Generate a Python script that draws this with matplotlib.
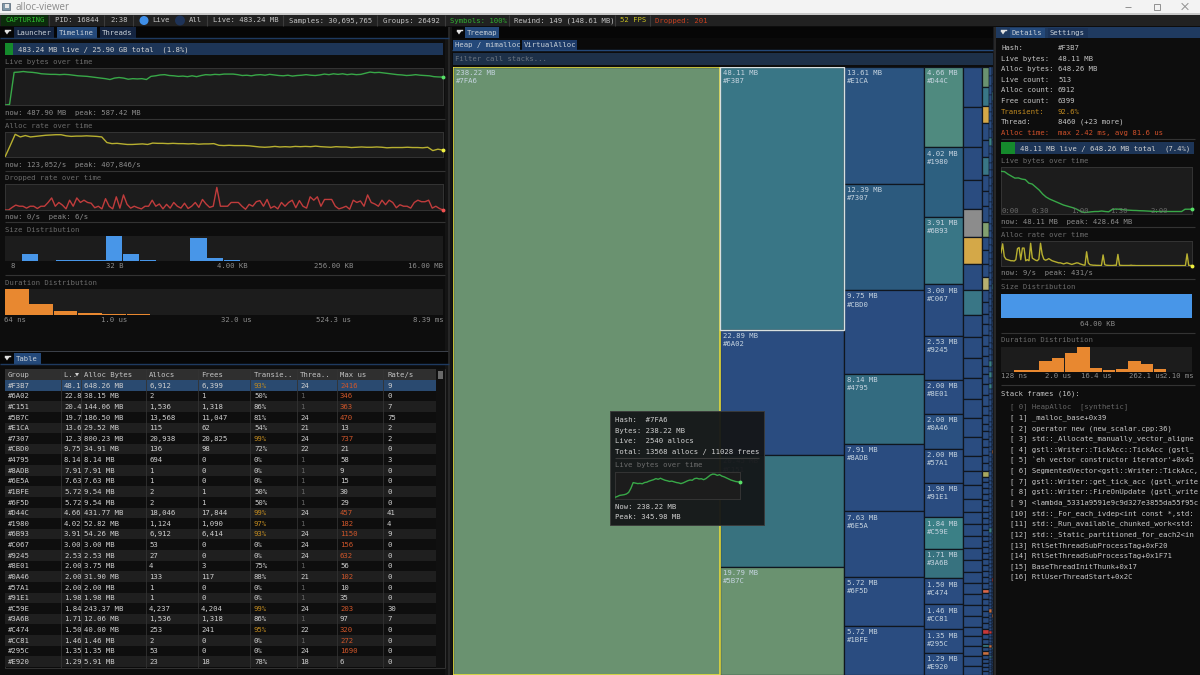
import matplotlib
matplotlib.use("Agg")
import matplotlib.pyplot as plt
from matplotlib.patches import Rectangle, Circle

plt.rcParams['font.family'] = ['DejaVu Sans Mono']
FS = 5.2
W, H = 1200, 675

# ---------- data ----------
live_mb = [0,10,570,575,585,575,570,560,545,540,535,535,530,535,530,520,510,505,500,490,480,470,460,445,470,480,470,450,460,455,460,445,500,510,525,530,515,510,500,505,495,510,495,515,530,525,535,530,540,540,540,530,515,520,510,525,530,520,535,525,515,510,520,505,515,520,530,520,515,525,540,530,545,535,545,530,540,530,535,555,575,565,570,560,550,540,530,525,515,520,530,520,515,510,495,490,488]
alloc_rate_k = [0,200,407,360,385,360,370,380,390,395,400,400,380,370,375,375,380,375,370,360,260,240,245,235,225,225,230,235,225,250,245,245,240,245,240,240,235,240,230,235,235,240,210,205,210,205,205,205,200,190,180,175,180,190,180,185,180,190,185,190,185,195,185,180,175,185,180,180,170,175,180,175,175,180,175,165,170,170,170,175,170,170,165,175,115,140,123]
dropped_rate = [0,0,0.7,1.3,1,1,0.5,1,1,0.4,1,1,2,3.2,1,2,1.3,0.3,2.6,1,3.2,2,2.6,2,1.8,0.6,1,0.3,3,1,0.3,3.5,0.5,4,1.5,0.5,1,0.6,0.3,1,1,2.6,1,1.6,0.3,1.5,0.5,2,1,0.5,1.8,0.4,1,2,0.7,2.8,1.6,0.7,1,6,1,1,1,2,2,2,1,0.2,1.5,1,2.2,2.5,1,2.8,0.5,1,0.3,2,1,2,2.6,0.6,2.5,1,0.5,3.5,2.6,3.5,1,2.8,2.8,2.8,1,0.3,0.6,1,0.2,2.6,2,2.4,1,4,2,1.6,1,2.6,1.4,2.6,2,0.6,1.4,1,1,0.5,2,2.6,2.2,2.2,2.6,0.5,1,0.4,0]
size_bins = [0,0.27,0,0.04,0.04,0.04,1.0,0.30,0.04,0,0,0.93,0.12,0.04,0,0,0,0,0,0,0,0,0,0,0,0]
duration_bins = [1.0,0.43,0.17,0.07,0.04,0.04,0,0,0,0,0,0,0,0,0,0,0,0]
detail_live_mb = [428,425,400,380,360,362,350,345,310,300,270,240,200,170,150,135,120,105,90,80,70,60,45,25,15,18,22,25,25,30,25,22,45,50,48,45,40,38,36,35,33,32,30,28,26,25,25,25,25,25,25,25,25,48,48,48]
detail_alloc = [250,420,180,130,120,110,100,100,95,120,330,350,120,340,340,100,120,100,431,150,130,110,100,130,431,220,130,110,120,140,120,100,90,80,70,60,60,50,40,50,60,50,40,30,40,50,60,55,40,30,20,15,270,60,25,20,15,15,12,12,10,10,210,25,15,12,10,10,10,15,12,220,15,12,10,10,10,10,10,15,10,10,8,8,8,8,8,8,8,8,8,8,8,8,8,8,8,8,8,8,8,8,8,8,8,8,8,8,8,8,8,8,8,230,12,9,9]
detail_size_bins = [1.0]
detail_duration_bins = [0,0.08,0.08,0.43,0.57,0.77,1.0,0.15,0.08,0.14,0.43,0.33,0.13,0,0]
tooltip_live = [23,35,50,55,60,70,92,150,229,222,215,218,213,230,235,250,260,270,285,275,290,275,262,255,245,250,240,230,225,215,225,240,255,265,262,285,290,280,283,270,285,310,335,348,345,330,340,320,310,295,280,265,255,245,240,238]

table_header = ["Group","L.. ","Alloc Bytes","Allocs","Frees","Transie..","Threa..","Max us","Rate/s"]
group_ids = ["#F3B7","#6A02","#C151","#5B7C","#E1CA","#7307","#CBD0","#4795","#8ADB","#6E5A","#1BFE","#6F5D","#D44C","#1980","#6B93","#C067","#9245","#8E01","#0A46","#57A1","#91E1","#C59E","#3A6B","#C474","#CC81","#295C","#E920"]
live_col = ["48.1","22.8","20.4","19.7","13.6","12.3","9.75","8.14","7.91","7.63","5.72","5.72","4.66","4.02","3.91","3.00","2.53","2.00","2.00","2.00","1.98","1.84","1.71","1.50","1.46","1.35","1.29"]
alloc_bytes = ["648.26 MB","38.15 MB","144.06 MB","186.50 MB","29.52 MB","800.23 MB","34.91 MB","8.14 MB","7.91 MB","7.63 MB","9.54 MB","9.54 MB","431.77 MB","52.82 MB","54.26 MB","3.00 MB","2.53 MB","3.75 MB","31.90 MB","2.00 MB","1.98 MB","243.37 MB","12.06 MB","40.00 MB","1.46 MB","1.35 MB","5.91 MB"]
allocs = ["6,912","2","1,536","13,568","115","20,938","136","694","1","1","2","2","18,046","1,124","6,912","53","27","4","133","1","1","4,237","1,536","253","2","53","23"]
frees = ["6,399","1","1,318","11,047","62","20,825","98","0","0","0","1","1","17,844","1,090","6,414","0","0","3","117","0","0","4,204","1,318","241","0","0","18"]
transient = [93,50,86,81,54,99,72,0,0,0,50,50,99,97,93,0,0,75,88,0,0,99,86,95,0,0,78]
threads = [24,1,1,24,21,24,22,1,1,1,1,1,24,1,24,24,24,1,21,1,1,24,1,22,1,24,18]
max_us = [2416,346,363,470,13,737,21,58,9,15,30,29,457,182,1150,156,632,56,102,10,35,203,97,320,272,1690,6]
rate_s = [9,0,7,75,2,2,0,3,0,0,0,0,41,4,9,0,0,0,0,0,0,30,7,0,0,0,0]

BLUE="#2a4c80"; GREEN="#6a9270"; TEAL="#397686"
col1_mb = [238.22]; col1_ids = ["#7FA6"]; col1_colors = [GREEN]
col2_mb = [48.11,22.89,20.45,19.79]; col2_ids = ["#F3B7","#6A02","#C151","#5B7C"]
col2_colors = [TEAL,BLUE,"#38727f",GREEN]
col3_mb = [13.61,12.39,9.75,8.14,7.91,7.63,5.72,5.72]
col3_ids = ["#E1CA","#7307","#CBD0","#4795","#8ADB","#6E5A","#6F5D","#1BFE"]
col3_colors = ["#2b5480","#2c5a7e",BLUE,"#336b80",BLUE,BLUE,BLUE,BLUE]
col4_mb = [4.66,4.02,3.91,3.00,2.53,2.00,2.00,2.00,1.98,1.84,1.71,1.50,1.46,1.35,1.29]
col4_ids = ["#D44C","#1980","#6B93","#C067","#9245","#8E01","#0A46","#57A1","#91E1","#C59E","#3A6B","#C474","#CC81","#295C","#E920"]
col4_colors = ["#4f8a7f","#2d6080",TEAL,BLUE,BLUE,BLUE,"#2a5080",BLUE,BLUE,"#3b8086","#37727f",BLUE,BLUE,BLUE,BLUE]
col5_mb = [1.12,1.12,.92,.81,.78,.75,.73,.70,.61,.59,.56,.59,.53,.53,.53,.42,.39,.39,.36,.34,.34,.34,.34,.31,.31,.31,.31,.31,.31,.25,.28,.28,.28,.25]
col5_accents = {4:"#8c8c8c",5:"#d4a848",7:"#397686"}
col6_mb = [.20,.20,.17,.17,.18,.18,.16,.16,.16,.15,.13,.15,.13,.13,.12,.12,.11,.11,.11,.10,.10,.09,.10,.11,.11,.09,.09,.08,.08,.08,.08,.08,.08,.06,.06,.06,.06,.06,.06,.06,.06,.06,.06,.06,.06,.06,.06,.06,.06,.06,.06,.06,.06,.05,.06,.06,.06,.06,.06,.06,.05,.05,.05,.04,.04,.04,.04,.04,.04,.04,.04]
col6_accents = {0:"#6a9270",1:"#397686",2:"#d4a848",5:"#397686",9:"#82a070",13:"#b8b070",33:"#a8a860",53:"#d8684a",60:"#c83838",63:"#3b8086",65:"#c87040"}
col7_kb = [32,32,30,30,30,28,28,30,28,28,28,26,26,28,26,26,26,24,26,24,24,24,24,22,24,22,24,22,22,22,22,22,20,22,20,20,22,20,20,20,20,18,20,20,18,18,20,18,18,18,18,18,16,18,18,16,16,18,16,16,16,16,16,16,14,16,16,14,14,16,14,14,14,14,14,14,14,14,12,14,14,12,12,14,12,12,12,12,12,12,12,12,12,10,12,10,12,10,10,10,10,10,10,10,10,10,10,10,10,8,10,8,8,8,8,8,8,8,8,8]
col7_accents = {8:"#3b8086",40:"#3b8086",42:"#3b8086",44:"#3b8086",74:"#3b8086",96:"#c87040",103:"#c83838",108:"#c87040",112:"#3b8086"}
col8_kb = [18,18,18,18,17,17,17,17,16,16,16,16,16,16,15,15,15,15,15,15,15,14,14,14,14,14,14,14,14,13,13,13,13,13,13,13,13,13,12,12,12,12,12,12,12,12,12,12,11,11,11,11,11,11,11,11,11,11,11,10,10,10,10,10,10,10,10,10,10,10,10,10,9,9,9,9,9,9,9,9,9,9,9,9,8,8,8,8,8,8,8,8,8,8,8,8,8,7,7,7,7,7,7,7,7,7,7,7,7,7,6,6,6,6,6,6,6,6,6,6]
col8_accents = {3:"#3b8086",30:"#3b8086",60:"#c87040",90:"#c83838",100:"#c87040",110:"#3b8086"}

detail_rows = [("Hash:","#F3B7"),("Live bytes:","48.11 MB"),("Alloc bytes:","648.26 MB"),("Live count:","513"),("Alloc count:","6912"),("Free count:","6399"),("Transient:","92.6%"),("Thread:","8460 (+23 more)"),("Alloc time:","max 2.42 ms, avg 81.6 us")]
stack_frames = ["[ 0] HeapAlloc  [synthetic]","[ 1] _malloc_base+0x39","[ 2] operator new (new_scalar.cpp:36)","[ 3] std::_Allocate_manually_vector_aligne","[ 4] gstl::Writer::TickAcc::TickAcc (gstl_","[ 5] `eh vector constructor iterator'+0x45","[ 6] SegmentedVector<gstl::Writer::TickAcc,","[ 7] gstl::Writer::get_tick_acc (gstl_write","[ 8] gstl::Writer::FireOnUpdate (gstl_write","[ 9] <lambda_5331a9591e9c9d327e3855da55f95c","[10] std::_For_each_ivdep<int const *,std:","[11] std::_Run_available_chunked_work<std:","[12] std::_Static_partitioned_for_each2<in","[13] RtlSetThreadSubProcessTag+0xF20","[14] RtlSetThreadSubProcessTag+0x1F71","[15] BaseThreadInitThunk+0x17","[16] RtlUserThreadStart+0x2C"]
status_items = [("CAPTURING",5,"#30c030"),("PID: 16844",55,"#c4c4c4"),("2:38",110,"#c4c4c4"),("Live",152,"#c4c4c4"),("All",189,"#c4c4c4"),("Live: 483.24 MB",213,"#c4c4c4"),("Samples: 30,695,765",289,"#c4c4c4"),("Groups: 26492",383,"#c4c4c4"),("Symbols: 100%",450,"#30b030"),("Rewind: 149 (148.61 MB)",514,"#c4c4c4"),("52 FPS",620,"#c8c020"),("Dropped: 201",655,"#c84020")]
status_seps = [49,104,133,207,283,377,445,509,615,650]

# ---------- canvas ----------
fig = plt.figure(figsize=(W/100, H/100), dpi=100, facecolor="#0d0d0d")

def px_axes(x0, y0, x1, y1, z=1):
    a = fig.add_axes([x0/W, 1-y1/H, (x1-x0)/W, (y1-y0)/H], zorder=z)
    return a

bg = px_axes(0, 0, W, H, 0)
bg.set_xlim(0, W); bg.set_ylim(H, 0); bg.axis("off")
bg.set_facecolor("#0d0d0d")

def rect(a, x0, y0, x1, y1, fc, ec="none", lw=0, z=1, alpha=None):
    a.add_patch(Rectangle((x0, y0), x1-x0, y1-y0, facecolor=fc, edgecolor=ec, linewidth=lw, zorder=z, alpha=alpha))

def txt(a, x, y, s, color="#c4c4c4", ha="left", fs=FS, z=5, **kw):
    a.text(x, y, s, color=color, ha=ha, va="center", fontsize=fs, zorder=z, **kw)

def hline(a, x0, x1, y, c="#333333", lw=0.8):
    a.plot([x0, x1], [y, y], color=c, lw=lw, zorder=3, solid_capstyle="butt")

def vline(a, x, y0, y1, c="#333333", lw=0.8):
    a.plot([x, x], [y0, y1], color=c, lw=lw, zorder=3, solid_capstyle="butt")

# window title bar
rect(bg, 0, 0, W, 13, "#f3f3f3")
rect(bg, 0, 13, W, 14.5, "#c8c8c8")
rect(bg, 2, 3, 10, 10, "#7f97a8", ec="#506070", lw=0.5)
rect(bg, 5, 4, 9, 8, "#e8e8e8")
bg.text(15, 7.5, "alloc-viewer", color="#8a8a8a", fontsize=7, va="center", family="Open Sans", zorder=5)
hline(bg, 1125, 1131, 6.5, "#909090", 0.7)
rect(bg, 1154, 3.5, 1160, 9.5, "none", ec="#909090", lw=0.7)
bg.plot([1182, 1188], [3.5, 9.5], color="#909090", lw=0.7, zorder=3)
bg.plot([1182, 1188], [9.5, 3.5], color="#909090", lw=0.7, zorder=3)

# status bar
rect(bg, 0, 14.5, W, 26, "#212121")
rect(bg, 1, 15, 48, 25.5, "#0c2c0c")
for s in status_seps:
    vline(bg, s, 15, 26, "#3c3c3c")
for s, x, c in status_items:
    txt(bg, x, 20.5, s, color=c)
bg.add_patch(Circle((144, 20.5), 4.5, facecolor="#3f8fe8", zorder=4))
bg.add_patch(Circle((180, 20.5), 5, facecolor="#1e3358", zorder=4))

# splitters
vline(bg, 448.5, 27, H, "#2c2c2c", 1.2)
vline(bg, 995, 27, H, "#2c2c2c", 1.2)
rect(bg, 445, 27, 452, H, "#141414")
rect(bg, 993, 27, 996, H, "#17191c")
rect(bg, 0, 350.5, 449, 352, "#3a3f48")

# left tabs
rect(bg, 0, 27, 449, 37.5, "#060606")
hline(bg, 0, 449, 37.5, "#1e3a60", 1)
def tab(a, x0, x1, y0, y1, s, active=False, idle="#142440"):
    rect(a, x0, y0, x1, y1, "#24497a" if active else idle)
    txt(a, x0+2, (y0+y1)/2+0.3, s, color="#c8d0d8")
def menu_glyph(a, x, y):
    a.plot([x-2.5, x+2.5], [y-2.5, y-2.5], color="#e0e0e0", lw=1, zorder=6)
    a.fill([x-2.5, x+2.5, x], [y-1, y-1, y+2.5], color="#e0e0e0", lw=0, zorder=6)
menu_glyph(bg, 7, 32)
tab(bg, 14, 54, 27, 37.5, "Launcher")
tab(bg, 57, 97, 27, 37.5, "Timeline", True)
tab(bg, 100, 136, 27, 37.5, "Threads")

# progress bar left
rect(bg, 5, 43, 443, 55, "#1d3557")
rect(bg, 5, 43, 13, 55, "#158a2c", z=2)
txt(bg, 18, 49.5, "483.24 MB live / 25.90 GB total  (1.8%)", color="#d0d0d0")

DIM = "#6c6c6c"; SUB = "#8c8c8c"
def line_plot(box, values, peak, col, dot, z=1, scale=1.1):
    x0, y0, x1, y1 = box
    a = px_axes(x0, y0, x1, y1, z)
    a.set_facecolor("#1c1c1c")
    for sp in a.spines.values():
        sp.set_color("#343434"); sp.set_linewidth(0.7); sp.set_zorder(1)
    a.set_xticks([]); a.set_yticks([])
    xs = list(range(len(values)))
    a.plot(xs, values, color=col, lw=1.0, zorder=3)
    a.plot(xs[-1:], values[-1:], "o", color=dot, ms=2.8, mew=0, clip_on=False, zorder=4)
    a.set_xlim(0, len(values)-1)
    a.set_ylim(0, peak*scale)
    return a

def bar_plot(box, values, col):
    x0, y0, x1, y1 = box
    a = px_axes(x0, y0, x1, y1)
    a.set_facecolor("#1c1c1c")
    for sp in a.spines.values():
        sp.set_visible(False)
    a.set_xticks([]); a.set_yticks([])
    w = 1.0 if len(values) == 1 else 0.97
    a.bar(range(len(values)), values, width=w, align="edge", color=col, edgecolor="none")
    a.set_xlim(0, len(values)); a.set_ylim(0, 1.0)
    return a

txt(bg, 5, 62, "Live bytes over time", color=DIM)
line_plot((5, 68, 443, 105), live_mb, 587.42, "#38a848", "#58e068")
txt(bg, 5, 113, "now: 487.90 MB  peak: 587.42 MB", color=SUB)
hline(bg, 5, 445, 119)
txt(bg, 5, 126, "Alloc rate over time", color=DIM)
line_plot((5, 132, 443, 157), alloc_rate_k, 407.846, "#b8b030", "#f0f040")
txt(bg, 5, 165, "now: 123,052/s  peak: 407,846/s", color=SUB)
hline(bg, 5, 445, 171)
txt(bg, 5, 178, "Dropped rate over time", color=DIM)
line_plot((5, 184, 443, 210), dropped_rate, 6, "#c03c3c", "#f05050", scale=1.15)
txt(bg, 5, 216.5, "now: 0/s  peak: 6/s", color=SUB)
hline(bg, 5, 445, 222)
txt(bg, 5, 230, "Size Distribution", color=DIM)
bar_plot((5, 236, 443, 261), size_bins, "#4896e8")
for s, x in [("8",13),("32 B",115),("4.00 KB",232),("256.00 KB",334),("16.00 MB",426)]:
    txt(bg, x, 266.5, s, color=SUB, ha="center")
hline(bg, 5, 445, 275)
txt(bg, 5, 283, "Duration Distribution", color=DIM)
bar_plot((5, 289, 443, 315), duration_bins, "#e88830")
for s, x in [("64 ns",15),("1.0 us",114),("32.0 us",236),("524.3 us",333),("8.39 ms",428)]:
    txt(bg, x, 320, s, color=SUB, ha="center")

# table
rect(bg, 0, 352, 449, 363.5, "#060606")
menu_glyph(bg, 7, 358)
tab(bg, 14, 41, 353, 363.5, "Table", True)
hline(bg, 0, 449, 363.5, "#1e3a60", 1)
rect(bg, 5, 369, 445, 668, "#0b0b0b", ec="#333333", lw=0.7)
rect(bg, 5, 369, 436, 380, "#2f2f2f")
col_x = [8, 64, 84, 149, 201, 254, 300, 340, 387]
col_lines = [61, 81, 146, 198, 250, 297, 337, 383]
for s, x in zip(table_header, col_x):
    txt(bg, x, 375, s, color="#c4c4c4")
bg.fill([75, 79, 77], [373, 373, 376.5], color="#d0d0d0", lw=0, zorder=6)
RT = 380; RP = 10.63
for i, gid in enumerate(group_ids):
    top = RT + i*RP
    fc = "#2a4a70" if i == 0 else ("#0e0e0e" if i % 2 == 1 else "#1f1f1f")
    rect(bg, 5, top, 436, top+RP, fc)
    y = top + RP/2 + 0.3
    tc = "#d0d0d0"
    txt(bg, col_x[0], y, gid, color=tc)
    txt(bg, col_x[1], y, live_col[i], color=tc)
    txt(bg, col_x[2], y, alloc_bytes[i], color=tc)
    txt(bg, col_x[3], y, allocs[i], color=tc)
    txt(bg, col_x[4], y, frees[i], color=tc)
    txt(bg, col_x[5], y, f"{transient[i]}%", color="#c08a20" if transient[i] >= 90 else tc)
    txt(bg, col_x[6], y, str(threads[i]), color="#666666" if threads[i] == 1 else tc)
    txt(bg, col_x[7], y, str(max_us[i]), color="#d0562a" if max_us[i] >= 100 else tc)
    txt(bg, col_x[8], y, str(rate_s[i]), color=tc)
for x in col_lines:
    vline(bg, x, 369, 668, "#333333", 0.6)
rect(bg, 436, 369, 445, 668, "#101010")
rect(bg, 437.5, 371, 443, 379, "#6a6a6a")

# treemap header
rect(bg, 452, 27, 993, 37.5, "#060606")
menu_glyph(bg, 459, 32)
tab(bg, 465, 499, 27, 37.5, "Treemap", True)
rect(bg, 452, 38, 993, 50, "#0a0a0a")
tab(bg, 453, 520, 40, 50, "Heap / mimalloc", True)
tab(bg, 522, 577, 40, 50, "VirtualAlloc", idle="#1d3a68")
hline(bg, 452, 993, 50, "#24497a", 1)
rect(bg, 453, 52.5, 993, 65, "#1d3048")
txt(bg, 455, 59, "Filter call stacks...", color="#6a7480")

# treemap (column widths and cell heights come from the values)
tm = px_axes(453, 67, 993, 675, 1)
tm.axis("off")
col_sets = [
    (col1_mb, col1_colors, col1_ids),
    (col2_mb, col2_colors, col2_ids),
    (col3_mb, col3_colors, col3_ids),
    (col4_mb, col4_colors, col4_ids),
    (col5_mb, [col5_accents.get(i, BLUE) for i in range(len(col5_mb))], None),
    (col6_mb, [col6_accents.get(i, BLUE) for i in range(len(col6_mb))], None),
    ([v/1024 for v in col7_kb], [col7_accents.get(i, BLUE) for i in range(len(col7_kb))], None),
    ([v/1024 for v in col8_kb], [col8_accents.get(i, BLUE) for i in range(len(col8_kb))], None),
]
left = 0.0
for vals, cols, ids in col_sets:
    total = sum(vals)
    bottoms = 0.0
    for j, (v, c) in enumerate(zip(vals, cols)):
        h = v/total
        edge = "#10161f"
        tm.bar(left, h, bottom=bottoms, width=total, align="edge", color=c, edgecolor=edge, linewidth=0.9 if total > 3 else 0.35)
        if ids is not None:
            tm.annotate(f"{v:.2f} MB", (left, bottoms), xytext=(2.0, -4.6), textcoords="offset points", color="#c6d4e0", fontsize=FS, va="center")
            tm.annotate(ids[j], (left, bottoms), xytext=(2.0, -10.4), textcoords="offset points", color="#c6d4e0", fontsize=FS, va="center")
        bottoms += h
    left += total
tm.set_xlim(0, left); tm.set_ylim(1, 0)
w1 = col1_mb[0]; h2 = col2_mb[0]/sum(col2_mb)
tm.add_patch(Rectangle((0, 0), w1, 1, facecolor="none", edgecolor="#e8e040", linewidth=1.2, zorder=4))
tm.add_patch(Rectangle((w1, 0), sum(col2_mb), h2, facecolor="none", edgecolor="#d8e0e0", linewidth=1.0, zorder=4))

# right panel
rect(bg, 996, 27, W, 37.5, "#1f3a60")
menu_glyph(bg, 1003, 32)
tab(bg, 1010, 1045, 27.5, 37.5, "Details", True)
tab(bg, 1048, 1088, 27.5, 37.5, "Settings", idle="#1b3358")
for i, (k, v) in enumerate(detail_rows):
    y = 48 + i*10.6
    c = "#c4c4c4"
    if k == "Transient:": c = "#c08a20"
    if k == "Alloc time:": c = "#d0502a"
    txt(bg, 1001, y, k, color=c)
    txt(bg, 1058, y, v, color=c)
hline(bg, 1001, 1195, 139)
rect(bg, 1001, 142, 1194, 154, "#1d3557")
rect(bg, 1001, 142, 1015, 154, "#158a2c", z=2)
txt(bg, 1020, 148.5, "48.11 MB live / 648.26 MB total", color="#d0d0d0")
txt(bg, 1165, 148.5, "(7.4%)", color="#d0d0d0")
txt(bg, 1001, 161, "Live bytes over time", color=DIM)
line_plot((1001, 167, 1192, 214), detail_live_mb, 428.64, "#38a848", "#58e068")
ov = px_axes(0, 0, W, H, 4)
ov.set_xlim(0, W); ov.set_ylim(H, 0); ov.axis("off"); ov.patch.set_alpha(0)
for s, x in [("0:00",1001),("0:30",1031),("1:00",1071),("1:30",1110),("2:00",1150)]:
    txt(ov, x, 211, s, color="#6a6a6a")
txt(bg, 1001, 222, "now: 48.11 MB  peak: 428.64 MB", color=SUB)
hline(bg, 1001, 1195, 227)
txt(bg, 1001, 235, "Alloc rate over time", color=DIM)
line_plot((1001, 241, 1192, 266), detail_alloc, 431, "#b8b030", "#f0f040")
txt(bg, 1001, 273.5, "now: 9/s  peak: 431/s", color=SUB)
hline(bg, 1001, 1195, 279)
txt(bg, 1001, 287, "Size Distribution", color=DIM)
bar_plot((1001, 294, 1192, 318), detail_size_bins, "#4896e8")
txt(bg, 1097, 323.5, "64.00 KB", color=SUB, ha="center")
hline(bg, 1001, 1195, 333)
txt(bg, 1001, 340.5, "Duration Distribution", color=DIM)
bar_plot((1001, 347, 1192, 372), detail_duration_bins, "#e88830")
for s, x in [("128 ns",1001),("2.0 us",1045),("16.4 us",1081),("262.1 us",1129),("2.10 ms",1163)]:
    txt(bg, x, 376.5, s, color=SUB)
hline(bg, 1001, 1195, 385)
txt(bg, 1001, 393.5, "Stack frames (16):", color="#c4c4c4")
for i, s in enumerate(stack_frames):
    txt(bg, 1010, 407 + i*10.63, s, color="#666666" if i == 0 else "#c8c8c8")

# tooltip
rect(ov, 610, 411, 764, 525, "#141618", ec="#3a3a3a", lw=0.7, z=2, alpha=0.95)
for i, s in enumerate(["Hash:  #7FA6", "Bytes: 238.22 MB", "Live:  2540 allocs", "Total: 13568 allocs / 11028 frees"]):
    txt(ov, 615, 420 + i*10.6, s, color="#d0d0d0")
hline(ov, 615, 759, 458, "#3a3a3a")
txt(ov, 615, 465.5, "Live bytes over time", color=DIM)
line_plot((615, 472, 740, 499), tooltip_live, 345.98, "#38a848", "#58e068", z=5, scale=1.09)
txt(ov, 615, 507, "Now: 238.22 MB", color="#d0d0d0")
txt(ov, 615, 517, "Peak: 345.98 MB", color="#d0d0d0")

bg.set_xlim(0, W); bg.set_ylim(H, 0)
fig.savefig("out.png", dpi=100, facecolor=fig.get_facecolor())
